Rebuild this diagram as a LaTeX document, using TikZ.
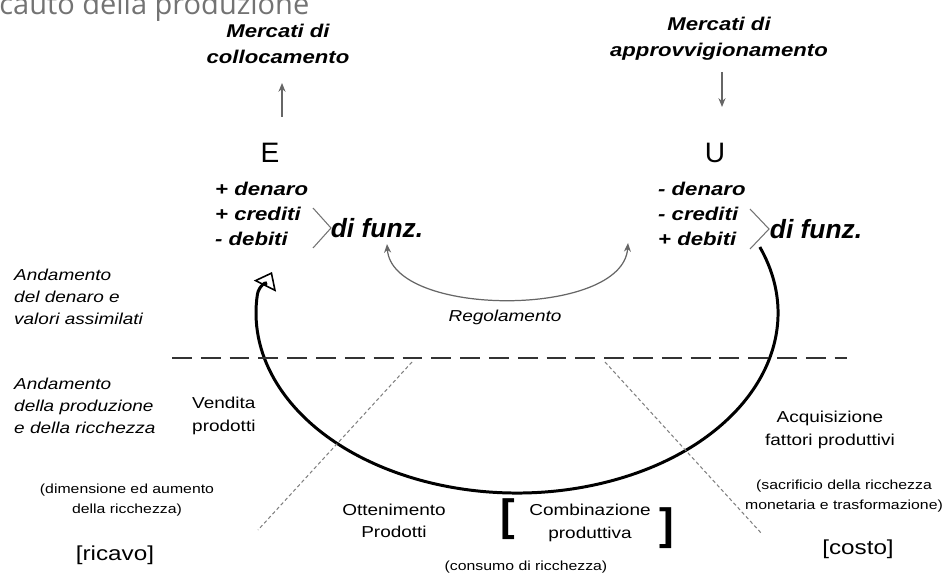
\documentclass[tikz,border=0pt]{standalone}
\usepackage{fontspec}
\setmainfont{Liberation Sans}[FakeStretch=1.2]
\newfontfamily\plainsans{Liberation Sans}
\newfontfamily\titlefont{Open Sans}
\usetikzlibrary{arrows.meta}

\begin{document}
\begin{tikzpicture}[x=0.02cm,y=-0.02cm,
  mkt/.style={font=\fontsize{10.5}{14.7}\selectfont\bfseries\itshape,align=center},
  voce/.style={font=\fontsize{10.5}{14.2}\selectfont\bfseries\itshape,align=left,anchor=west},
  funz/.style={font=\plainsans\fontsize{15}{15}\selectfont\bfseries\itshape},
  lettera/.style={font=\plainsans\fontsize{16}{16}\selectfont},
  lab/.style={font=\fontsize{9}{12.7}\selectfont,align=center},
  laba/.style={font=\fontsize{9}{12.7}\selectfont\itshape,align=left,anchor=west},
  tiny/.style={font=\fontsize{7.5}{11.5}\selectfont,align=center},
  quadra/.style={font=\fontsize{11.5}{11.5}\selectfont},
  parentesi/.style={font=\plainsans\fontsize{25}{25}\selectfont\bfseries,inner sep=0pt},
  freccina/.style={draw=black!60,line width=0.7pt,-{Stealth[length=5pt,width=4pt]}},
  chevron/.style={draw=black!55,line width=0.6pt},
  ciclo/.style={line width=1.7pt,-{Triangle[open,length=9pt,width=14pt,line width=0.9pt]}},
  soglia/.style={draw=black!80,line width=1.7pt,dash pattern=on 11.3pt off 5.1pt},
  diagonale/.style={draw=black!50,line width=0.6pt,dash pattern=on 2pt off 1.5pt}]
\useasboundingbox (0,0) rectangle (946,574);

\node[anchor=base west,inner sep=0pt,text=black!55,font=\titlefont\fontsize{16.5}{16.5}\selectfont] (0) at (-1,15) {cauto della produzione};

\node[mkt] (1) at (278,44) {Mercati di\\collocamento};
\node[mkt] (2) at (719,39) {Mercati di\\approvvigionamento};
\coordinate (3) at (282,117);
\coordinate (4) at (282,83);
\coordinate (5) at (722,72);
\coordinate (6) at (722,107);
\draw[freccina] (3) -- (4);
\draw[freccina] (5) -- (6);

\node[lettera] (7) at (270,153) {E};
\node[lettera] (8) at (715,153) {U};
\node[voce] (9) at (209,214) {+ denaro\\+ crediti\\- debiti};
\node[voce] (10) at (652,214) {- denaro\\- crediti\\+ debiti};
\draw[chevron] (313,208) -- (331,228) -- (313,248);
\draw[chevron] (750,209) -- (769,229) -- (750,249);
\node[funz] (11) at (377,228) {di funz.};
\node[funz] (12) at (816,229) {di funz.};

\coordinate (13) at (387,244);
\coordinate (14) at (628,243);
\draw[freccina,{Stealth[length=5pt,width=4pt]}-{Stealth[length=5pt,width=4pt]}] (13) .. controls (392,318) and (623,318) .. (14);
\node[lab,font=\fontsize{9}{12.7}\selectfont\itshape] (15) at (505,317) {Regolamento};

% ciclo della produzione
\coordinate (16) at ({517+261*cos(-21.5)},{313+180*sin(-21.5)});
\coordinate (17) at (272,272);
\draw[ciclo] (16) arc[start angle=-21.5,end angle=186,x radius=261,y radius=180]
  .. controls (258.6,286) and (268.5,279) .. (17);

\coordinate (18) at (172,358);
\coordinate (19) at (847,358);
\draw[soglia] (18) -- (19);

\coordinate (20) at (412,362);
\coordinate (21) at (258,530);
\coordinate (22) at (605,362);
\coordinate (23) at (762,534);
\draw[diagonale] (20) -- (21);
\draw[diagonale] (22) -- (23);

\node[laba] (24) at (8,297) {Andamento\\del denaro e\\valori assimilati};
\node[laba] (25) at (8,406) {Andamento\\della produzione\\e della ricchezza};
\node[lab,align=left,anchor=west] (26) at (186,416) {Vendita\\prodotti};
\node[tiny] (27) at (127,500) {(dimensione ed aumento\\della ricchezza)};
\node[quadra] (28) at (115,555) {[ricavo]};

\node[lab] (29) at (394,521) {Ottenimento\\Prodotti};
\node[parentesi] (30) at (508,519) {[};
\node[lab] (31) at (590,523) {Combinazione\\produttiva};
\node[parentesi] (32) at (667,528) {]};
\node[tiny] (33) at (526,567) {(consumo di ricchezza)};

\node[lab] (34) at (830,430) {Acquisizione\\fattori produttivi};
\node[tiny] (35) at (844,496) {(sacrificio della ricchezza\\monetaria e trasformazione)};
\node[quadra] (36) at (858,549) {[costo]};

\end{tikzpicture}
\end{document}
